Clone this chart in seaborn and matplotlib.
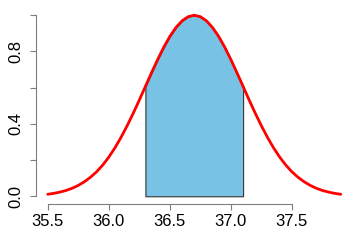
import matplotlib
matplotlib.use("Agg")
import matplotlib.pyplot as plt
import seaborn as sns
import numpy as np

# curve (x, height)
x_vals = [35.50, 35.55, 35.60, 35.65, 35.70, 35.75, 35.80, 35.85, 35.90, 35.95,
          36.00, 36.05, 36.10, 36.15, 36.20, 36.25, 36.30, 36.35, 36.40, 36.45,
          36.50, 36.55, 36.60, 36.65, 36.70, 36.75, 36.80, 36.85, 36.90, 36.95,
          37.00, 37.05, 37.10, 37.15, 37.20, 37.25, 37.30, 37.35, 37.40, 37.45,
          37.50, 37.55, 37.60, 37.65, 37.70, 37.75, 37.80, 37.85, 37.90]
y_vals = [0.011, 0.016, 0.023, 0.032, 0.044, 0.060, 0.080, 0.105, 0.135, 0.172,
          0.216, 0.267, 0.325, 0.389, 0.458, 0.531, 0.607, 0.682, 0.755, 0.823,
          0.883, 0.932, 0.969, 0.992, 1.000, 0.992, 0.969, 0.932, 0.883, 0.823,
          0.755, 0.682, 0.607, 0.531, 0.458, 0.389, 0.325, 0.267, 0.216, 0.172,
          0.135, 0.105, 0.080, 0.060, 0.044, 0.032, 0.023, 0.016, 0.011]
shade_lo = 36.3
shade_hi = 37.1

x_ticks = [35.5, 36.0, 36.5, 37.0, 37.5]
x_tick_labels = ["35.5", "36.0", "36.5", "37.0", "37.5"]
y_ticks = [0.0, 0.2, 0.4, 0.6, 0.8, 1.0]
y_tick_labels = ["0.0", "", "0.4", "", "0.8", ""]

sns.set_style("white")
plt.rcParams["font.family"] = ["Liberation Sans", "DejaVu Sans"]

fig = plt.figure(figsize=(3.6, 2.4), dpi=100)
ax = fig.add_axes([36.0 / 360, 1 - 203.5 / 240, 316.5 / 360, 195.5 / 240])

xs = np.array(x_vals)
ys = np.array(y_vals)
mask = (xs >= shade_lo - 1e-9) & (xs <= shade_hi + 1e-9)
ax.fill_between(xs[mask], 0, ys[mask], facecolor="#78C2E5",
                edgecolor="#333333", linewidth=0.8, zorder=1)

sns.lineplot(x=x_vals, y=y_vals, color="#FF0000", linewidth=2.0, ax=ax,
             zorder=2)

ax.set_xlim(35.404, 37.996)
ax.set_ylim(-0.04, 1.04)
ax.set_xlabel("")
ax.set_ylabel("")
for s in ["top", "right"]:
    ax.spines[s].set_visible(False)
for s in ["left", "bottom"]:
    ax.spines[s].set_color("#7f7f7f")
    ax.spines[s].set_linewidth(0.8)
ax.spines["left"].set_bounds(0.0, 1.0)
ax.spines["bottom"].set_bounds(35.5, 37.5)

ax.set_xticks(x_ticks)
ax.set_xticklabels(x_tick_labels)
ax.set_yticks(y_ticks)
ax.set_yticklabels(y_tick_labels, rotation=90, va="center")
ax.tick_params(axis="both", direction="out", length=4.5, width=0.8,
               color="#7f7f7f", labelsize=12, labelcolor="black",
               bottom=True, left=True)
ax.tick_params(axis="x", pad=3.3)
ax.tick_params(axis="y", pad=4.3)
ax.grid(False)

fig.savefig("out.png", dpi=100)
